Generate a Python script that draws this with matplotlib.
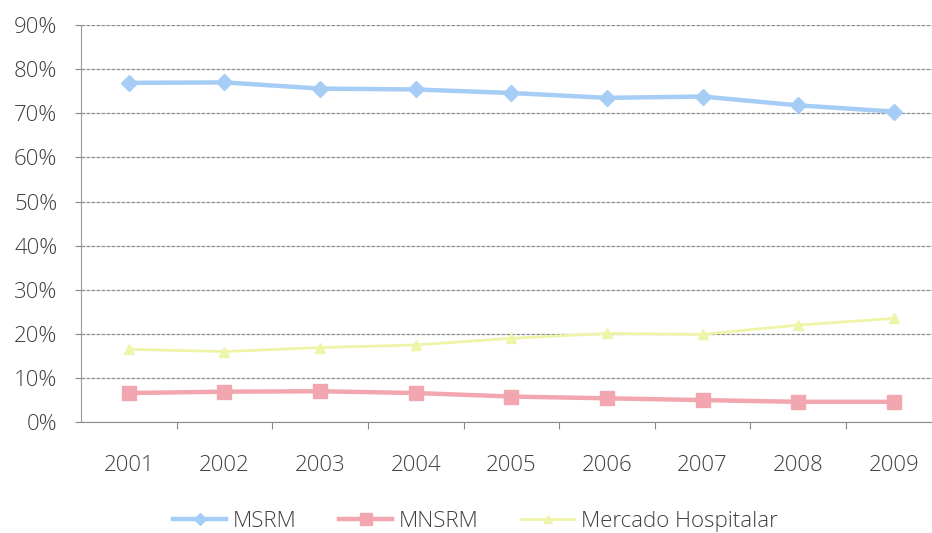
import numpy as np
import matplotlib.pyplot as plt
from matplotlib.ticker import FixedLocator, PercentFormatter

plt.rcParams['font.family'] = ['Open Sans', 'DejaVu Sans']
plt.rcParams['font.weight'] = 'light'

anos = ['2001', '2002', '2003', '2004', '2005', '2006', '2007', '2008', '2009']
msrm = [76.9, 77.0, 75.6, 75.4, 74.6, 73.5, 73.8, 71.8, 70.4]
mnsrm = [6.6, 6.9, 7.0, 6.6, 5.8, 5.4, 5.0, 4.6, 4.6]
hospitalar = [16.5, 16.0, 16.9, 17.5, 19.0, 20.1, 19.9, 22.0, 23.5]

x = np.arange(len(anos))

fig = plt.figure(figsize=(9.32, 5.33), dpi=100)
ax = fig.add_axes([0.087, 0.208, 0.913, 0.745])

ax.plot(x, msrm, color='#a6cdf5', lw=3.2, marker='D', ms=8, label='MSRM')
ax.plot(x, mnsrm, color='#f2a6b0', lw=3.2, marker='s', ms=10, label='MNSRM')
ax.plot(x, hospitalar, color='#eef4a8', lw=2.0, marker='^', ms=7,
        label='Mercado Hospitalar')

ax.set_ylim(0, 90)
ax.set_xlim(-0.5, 8.4)
ax.set_yticks(np.arange(0, 91, 10))
ax.yaxis.set_major_formatter(PercentFormatter(decimals=0))
ax.grid(axis='y', color='#8c8c8c', lw=0.9, ls=(0, (3, 1)))
ax.set_axisbelow(True)

# ticks between categories, labels centred on them
ax.xaxis.set_major_locator(FixedLocator(x[:-1] + 0.5))
ax.xaxis.set_minor_locator(FixedLocator(x))
ax.set_xticklabels([], minor=False)
ax.set_xticklabels(anos, minor=True)
ax.tick_params(axis='x', which='major', length=5, color='#888888')
ax.tick_params(axis='x', which='minor', length=0, pad=24, labelsize=16,
               labelcolor='#404040')
ax.tick_params(axis='y', length=4, color='#888888', pad=13, labelsize=16,
               labelcolor='#404040')

for s in ['top', 'right']:
    ax.spines[s].set_visible(False)
ax.spines['left'].set_color('#9a9a9a')
ax.spines['bottom'].set_color('#8c8c8c')

leg = fig.legend(loc='lower center', bbox_to_anchor=(0.51, -0.035), ncol=3,
                 frameon=False, fontsize=16, handlelength=2.4,
                 handletextpad=0.3, columnspacing=1.9, markerscale=0.8,
                 labelcolor='#404040')

fig.savefig('out.png', dpi=100)
